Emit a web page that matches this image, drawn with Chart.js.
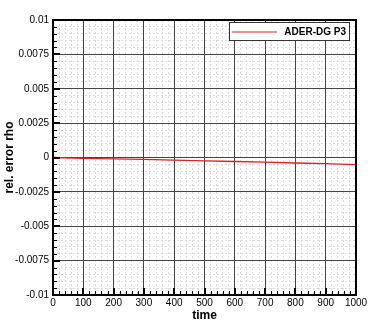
<!DOCTYPE html>
<html>
<head>
<meta charset="utf-8">
<script src="https://cdn.jsdelivr.net/npm/chart.js@4"></script>
<style>
  html, body { margin: 0; padding: 0; background: #fff; }
  #wrap { width: 374px; height: 332px; }
</style>
</head>
<body>
<div id="wrap"><canvas id="errChart" width="374" height="332"></canvas></div>
<script>
// values
const seriesLabel = 'ADER-DG P3'
const times = [0, 100, 200, 300, 400, 500, 600, 700, 800, 900, 1000]
const relErrRho = [0, -0.00006, -0.0001, -0.00014, -0.00019, -0.00024, -0.00029, -0.00034, -0.0004, -0.00045, -0.00052]
const xTicks = [0, 100, 200, 300, 400, 500, 600, 700, 800, 900, 1000]
const yTicks = [-0.01, -0.0075, -0.005, -0.0025, 0, 0.0025, 0.005, 0.0075, 0.01]
const yTickLabels = ['-0.01', '-0.0075', '-0.005', '-0.0025', '0', '0.0025', '0.005', '0.0075', '0.01']

const FONT = 'Liberation Sans, Arial, Helvetica, sans-serif'
const MINOR = '#dcdcdc'

function minorList(lo, hi, step) {
    const out = []
    for (let v = lo; v <= hi + step / 2; v += step) out.push({ value: +v.toFixed(6) })
    return out
}

function onMajor(list, v) {
    return list.some(m => Math.abs(m - v) < 1e-9)
}

// frame, inner tick marks and the boxed legend
const framePlugin = {
    id: 'frame',
    afterDraw(chart) {
        const ctx = chart.ctx
        const a = chart.chartArea
        const xs = chart.scales.x
        const ys = chart.scales.y
        ctx.save()
        ctx.setLineDash([])
        ctx.strokeStyle = '#000'
        // minor ticks
        ctx.lineWidth = 1
        minorList(0, 1000, 20).forEach(t => {
            const px = Math.round(xs.getPixelForValue(t.value)) + 0.5
            ctx.beginPath(); ctx.moveTo(px, a.bottom); ctx.lineTo(px, a.bottom - 4); ctx.stroke()
        })
        minorList(-0.01, 0.01, 0.0005).forEach(t => {
            const py = Math.round(ys.getPixelForValue(t.value)) + 0.5
            ctx.beginPath(); ctx.moveTo(a.left, py); ctx.lineTo(a.left + 4, py); ctx.stroke()
        })
        // major ticks
        ctx.lineWidth = 2
        xTicks.forEach(v => {
            const px = Math.round(xs.getPixelForValue(v))
            ctx.beginPath(); ctx.moveTo(px, a.bottom); ctx.lineTo(px, a.bottom - 7); ctx.stroke()
        })
        yTicks.forEach(v => {
            const py = Math.round(ys.getPixelForValue(v))
            ctx.beginPath(); ctx.moveTo(a.left, py); ctx.lineTo(a.left + 7, py); ctx.stroke()
        })
        // frame
        ctx.lineWidth = 2
        ctx.strokeRect(a.left, a.top, a.right - a.left, a.bottom - a.top)

        // legend
        const ds = chart.data.datasets[0]
        const bx = a.right - 127, by = a.top + 2, bw = 120, bh = 18
        ctx.fillStyle = '#fff'
        ctx.fillRect(bx, by, bw, bh)
        ctx.lineWidth = 1
        ctx.strokeStyle = '#333'
        ctx.strokeRect(bx + 0.5, by + 0.5, bw, bh)
        ctx.strokeStyle = ds.borderColor
        ctx.beginPath(); ctx.moveTo(bx + 3, by + 10); ctx.lineTo(bx + 48, by + 10); ctx.stroke()
        ctx.fillStyle = '#000'
        ctx.font = 'bold 10px ' + FONT
        ctx.textAlign = 'right'
        ctx.textBaseline = 'middle'
        ctx.fillText(ds.label, bx + bw - 3, by + 10)
        ctx.restore()
    }
}

const ctx = document.getElementById('errChart').getContext('2d')
const errChart = new Chart(ctx, {
    type: 'line',
    data: {
        datasets: [
            {
                label: seriesLabel,
                data: times.map((t, i) => ({ x: t, y: relErrRho[i] })),
                borderColor: '#dd2222',
                borderWidth: 1.3,
                pointRadius: 0,
                tension: 0,
            },
        ],
    },
    options: {
        responsive: false,
        animation: false,
        events: [],
        layout: { padding: { left: 2, top: 20, right: 18, bottom: 9 } },
        plugins: { legend: { display: false }, tooltip: { enabled: false } },
        scales: {
            xm: {
                type: 'linear', min: 0, max: 1000, position: 'bottom',
                afterBuildTicks: s => { s.ticks = minorList(0, 1000, 20) },
                afterFit: s => { s.height = 0 },
                ticks: { display: false },
                grid: { color: c => (onMajor(xTicks, c.tick.value) ? 'rgba(0,0,0,0)' : MINOR), lineWidth: 1, drawTicks: false },
                border: { display: false, dash: [2, 2] },
            },
            ym: {
                type: 'linear', min: -0.01, max: 0.01, position: 'left',
                afterBuildTicks: s => { s.ticks = minorList(-0.01, 0.01, 0.0005) },
                afterFit: s => { s.width = 0 },
                ticks: { display: false },
                grid: { color: c => (onMajor(yTicks, c.tick.value) ? 'rgba(0,0,0,0)' : MINOR), lineWidth: 1, drawTicks: false },
                border: { display: false, dash: [2, 2] },
            },
            x: {
                type: 'linear', min: 0, max: 1000,
                afterBuildTicks: s => { s.ticks = xTicks.map(v => ({ value: v })) },
                afterFit: s => { s.height = 28 },
                ticks: { color: '#000', font: { family: FONT, size: 10 }, padding: 2, maxRotation: 0, callback: v => String(v) },
                grid: { color: '#444', lineWidth: 1, drawTicks: false },
                border: { display: false, dash: [] },
                title: { display: true, text: 'time', color: '#000', font: { family: FONT, size: 12, weight: 'bold' }, padding: { top: 0, bottom: 0 } },
            },
            y: {
                type: 'linear', min: -0.01, max: 0.01,
                afterBuildTicks: s => { s.ticks = yTicks.map(v => ({ value: v })) },
                afterFit: s => { s.width = 51 },
                ticks: { color: '#000', font: { family: FONT, size: 10 }, padding: 4, callback: (v, i) => yTickLabels[i] },
                grid: { color: '#444', lineWidth: 1, drawTicks: false },
                border: { display: false, dash: [] },
                title: { display: true, text: 'rel. error rho', color: '#000', font: { family: FONT, size: 12, weight: 'bold' }, padding: { top: 0, bottom: 0 } },
            },
        },
    },
    plugins: [framePlugin],
})
</script>
</body>
</html>
